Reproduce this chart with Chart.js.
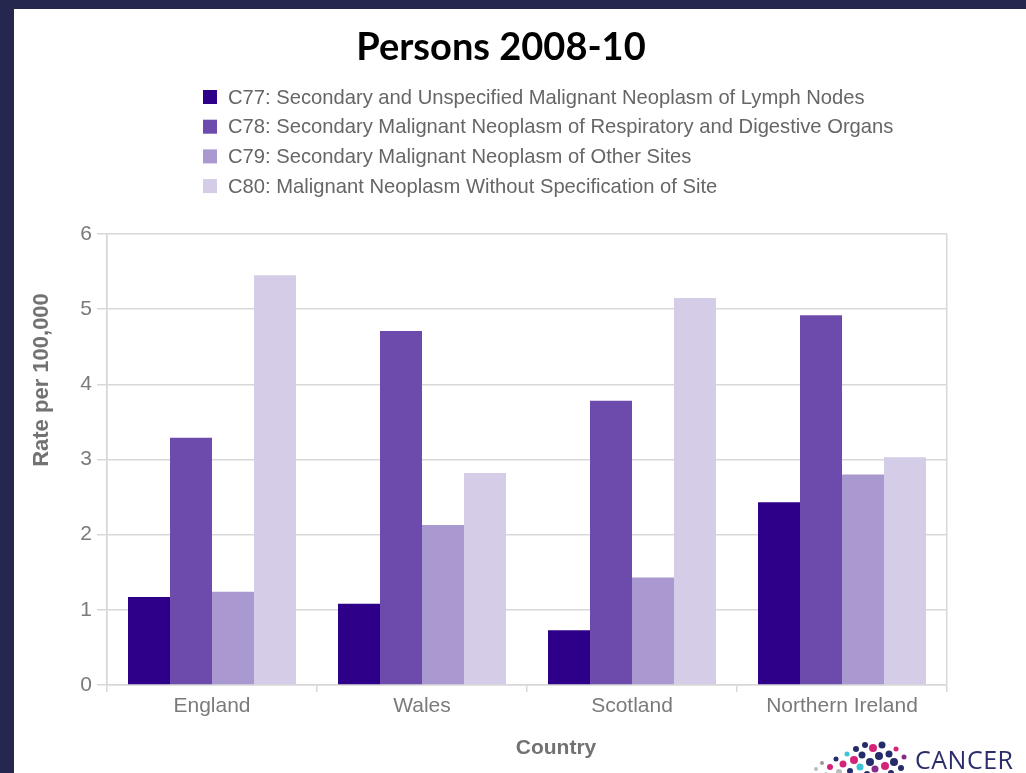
<!DOCTYPE html>
<html lang="en">
<head>
<meta charset="UTF-8"/>
<script src="https://cdn.jsdelivr.net/npm/chart.js"></script>
<style>
    body { margin: 0; background: #25274f; width: 1026px; height: 773px; overflow: hidden; }
    #panel { position: absolute; left: 14px; top: 9px; width: 1012px; height: 764px; background: #fff; overflow: hidden; }
    #logo { position: absolute; left: 790px; top: 730px; }
    #logoText { position: absolute; left: 901px; top: 733px; font: 25px "Open Sans", sans-serif; color: #2b2d6b; letter-spacing: 0.5px; }
</style>
</head>
<body>
<div id="panel">
    <canvas id="ratesChart"></canvas>
    <svg id="logo" width="110" height="40"></svg>
    <div id="logoText">CANCER</div>
</div>
<script>
const countries = ['England', 'Wales', 'Scotland', 'Northern Ireland'];
const seriesNames = [
    'C77: Secondary and Unspecified Malignant Neoplasm of Lymph Nodes',
    'C78: Secondary Malignant Neoplasm of Respiratory and Digestive Organs',
    'C79: Secondary Malignant Neoplasm of Other Sites',
    'C80: Malignant Neoplasm Without Specification of Site'
];
const c77 = [1.17, 1.08, 0.73, 2.43];
const c78 = [3.29, 4.71, 3.78, 4.92];
const c79 = [1.24, 2.13, 1.43, 2.80];
const c80 = [5.45, 2.82, 5.15, 3.03];
const yTicks = [0, 1, 2, 3, 4, 5, 6];

const colours = ['#2e0089', '#6d4bad', '#aa98d0', '#d5cde7'];
const gridColour = '#d8d8d8';
const textGrey = '#7a7a7a';
const font = 'Liberation Sans, Arial, sans-serif';

// logo dots: [x, y, r, colour]
const dots = [
    [6, 36, 1.5, '#999'], [12, 30, 2, '#bbb'], [18, 24, 2, '#999'], [22, 35, 2, '#c9c9c9'],
    [26, 28, 3, '#d6237a'], [32, 20, 2.5, '#262b6b'], [35, 33, 3, '#bbb'], [39, 25, 3.5, '#d6237a'],
    [43, 15, 2.5, '#3cc3d8'], [46, 32, 3, '#262b6b'], [50, 21, 4, '#d6237a'], [52, 10, 3, '#262b6b'],
    [56, 28, 3.5, '#3cc3d8'], [58, 16, 3.5, '#262b6b'], [61, 6, 3, '#262b6b'], [63, 35, 3, '#262b6b'],
    [66, 23, 4, '#262b6b'], [69, 9, 4, '#d6237a'], [71, 30, 3.5, '#8a2a8a'], [75, 17, 4, '#262b6b'],
    [78, 6, 3.5, '#262b6b'], [81, 27, 4, '#d6237a'], [85, 15, 3.5, '#262b6b'], [87, 34, 3, '#262b6b'],
    [90, 23, 4, '#262b6b'], [92, 10, 2.5, '#d6237a'], [97, 29, 3, '#262b6b'], [100, 18, 2.5, '#8a2a8a']
];
document.getElementById('logo').innerHTML = dots
    .map(([x, y, r, c]) => `<circle cx="${x}" cy="${y}" r="${r}" fill="${c}"/>`).join('');

// title, left-aligned legend block and axis titles
const decorations = {
    id: 'decorations',
    afterDraw(chart) {
        const {ctx, chartArea} = chart;
        ctx.save();
        ctx.fillStyle = '#000';
        ctx.font = 'bold 38px Lato, sans-serif';
        ctx.textAlign = 'center';
        ctx.textBaseline = 'alphabetic';
        ctx.fillText('Persons 2008-10', 487, 51);

        ctx.font = `20.2px ${font}`;
        ctx.textAlign = 'left';
        ctx.textBaseline = 'middle';
        chart.data.datasets.forEach((ds, i) => {
            const y = 88 + i * 29.7;
            ctx.fillStyle = ds.backgroundColor;
            ctx.fillRect(189, y - 7, 14, 14);
            ctx.fillStyle = '#666';
            ctx.fillText(ds.label, 214, y + 1);
        });

        ctx.fillStyle = '#727272';
        ctx.font = `bold 21px ${font}`;
        ctx.textAlign = 'center';
        ctx.fillText('Country', (chartArea.left + chartArea.right) / 2 + 29, chartArea.bottom + 63);
        ctx.font = `bold 22px ${font}`;
        ctx.translate(28, chartArea.top + 146);
        ctx.rotate(-Math.PI / 2);
        ctx.fillText('Rate per 100,000', 0, 0);
        ctx.restore();
    }
};

const datasets = [c77, c78, c79, c80].map((values, i) => ({
    label: seriesNames[i],
    data: values,
    backgroundColor: colours[i],
    borderWidth: 0,
    barPercentage: 1,
    categoryPercentage: 0.8
}));

new Chart(document.getElementById('ratesChart'), {
    type: 'bar',
    data: {labels: countries, datasets},
    options: {
        responsive: true,
        maintainAspectRatio: false,
        animation: false,
        layout: {padding: {top: 225, right: 79, left: 0, bottom: 0}},
        plugins: {legend: {display: false}, title: {display: false}, tooltip: {enabled: false}},
        scales: {
            x: {
                afterFit: scale => { scale.height = 88; },
                grid: {
                    color: c => (c.type === 'tick' && c.index > 0) ? 'rgba(0,0,0,0)' : gridColour,
                    tickColor: gridColour,
                    tickLength: 7,
                    lineWidth: 1.5
                },
                border: {color: gridColour, width: 1.5},
                ticks: {color: textGrey, font: {family: font, size: 21}, padding: 2}
            },
            y: {
                min: 0,
                max: 6,
                afterFit: scale => { scale.width = 93; },
                afterBuildTicks: scale => { scale.ticks = yTicks.map(v => ({value: v})); },
                grid: {color: gridColour, tickColor: gridColour, tickLength: 10, lineWidth: 1.5},
                border: {color: gridColour, width: 1.5},
                ticks: {color: textGrey, font: {family: font, size: 21}, padding: 5}
            }
        }
    },
    plugins: [decorations]
});
</script>
</body>
</html>
